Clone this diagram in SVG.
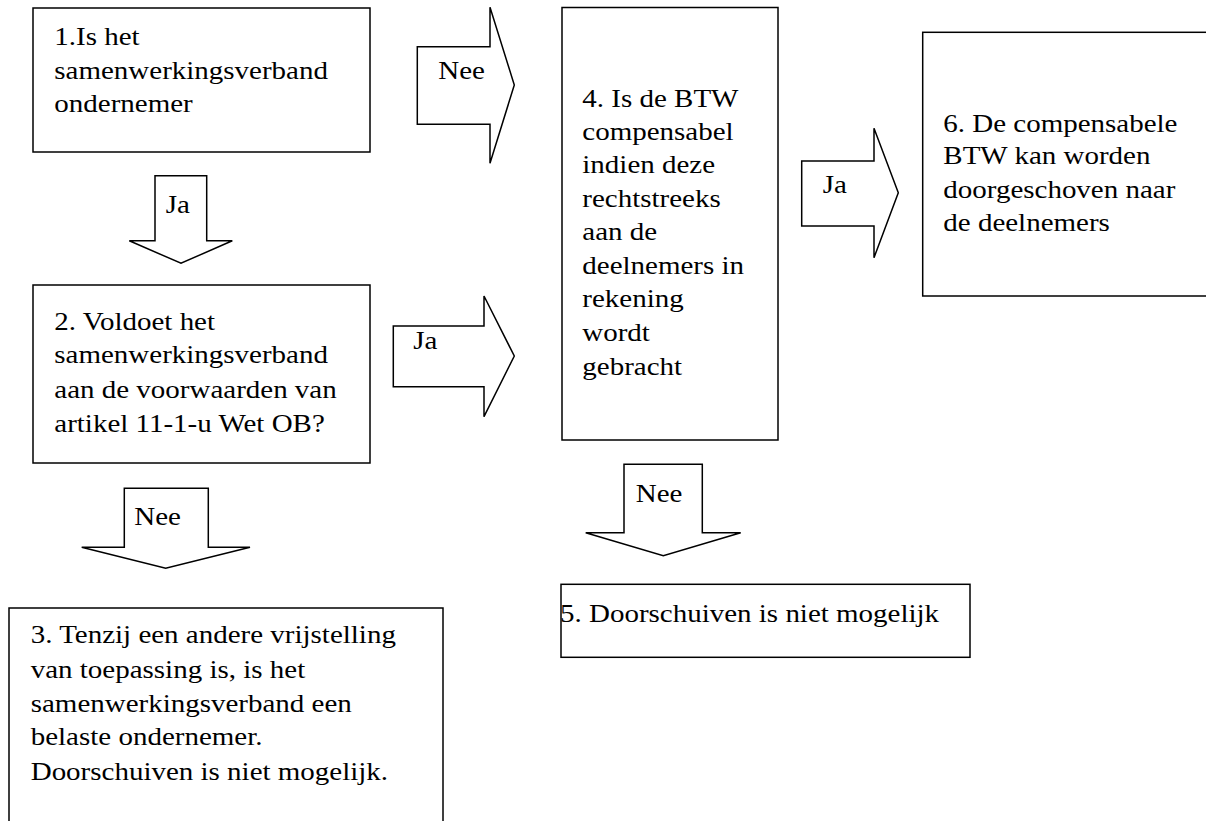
<svg xmlns="http://www.w3.org/2000/svg" width="1206" height="821" viewBox="0 0 1206 821">
<style>
.box{fill:#fff;stroke:#000;stroke-width:1.5}
.arr{fill:#fff;stroke:#000;stroke-width:1.5;stroke-linejoin:miter}
text{font-family:'Liberation Serif','Times New Roman','DejaVu Serif',serif;font-size:29px;fill:#000}
</style>
<rect width="1206" height="821" fill="#fff"/>
<g id="connectors" font-family="Liberation Serif, serif">
<g id="c1-4">
<polygon class="arr" points="417.3,46.7 490,46.7 490,7.3 514.3,85 490,163.3 490,124.3 417.3,124.3"/>
<text transform="translate(438.3,79.3) scale(1,0.88)">Nee</text>
</g>
<g id="c1-2">
<polygon class="arr" points="155,175.7 206.7,175.7 206.7,240.7 232.3,240.7 181,263.3 129.3,240.7 155,240.7"/>
<text transform="translate(165.7,213.3) scale(1,0.88)">Ja</text>
</g>
<g id="c2-4">
<polygon class="arr" points="393.3,326 484,326 484,296 514.3,356 484,416.7 484,386.7 393.3,386.7"/>
<text transform="translate(413.3,349.3) scale(1,0.88)">Ja</text>
</g>
<g id="c2-3">
<polygon class="arr" points="124.3,488.3 208.3,488.3 208.3,547.3 250,547.3 165.7,568.3 81.7,547.3 124.3,547.3"/>
<text transform="translate(134.3,525) scale(1,0.88)">Nee</text>
</g>
<g id="c4-6">
<polygon class="arr" points="801.7,161 874,161 874,128.3 898.3,192.7 874,257.7 874,226 801.7,226"/>
<text transform="translate(822.7,192.7) scale(1,0.88)">Ja</text>
</g>
<g id="c4-5">
<polygon class="arr" points="624,464.3 702.3,464.3 702.3,532.7 740.7,532.7 663.3,555.7 585.7,532.7 624,532.7"/>
<text transform="translate(635.7,501.7) scale(1,0.88)">Nee</text>
</g>
</g>
<g id="node1">
<rect class="box" x="33" y="8" width="337" height="144"/>
<text transform="translate(54.3,45) scale(1,0.88)">1.Is het</text>
<text transform="translate(54.3,78.7) scale(1,0.88)">samenwerkingsverband</text>
<text transform="translate(54.3,112.3) scale(1,0.88)">ondernemer</text>
</g>
<g id="node2">
<rect class="box" x="33" y="285" width="337" height="178"/>
<text transform="translate(54.3,330) scale(1,0.88)">2. Voldoet het</text>
<text transform="translate(54.3,363.3) scale(1,0.88)">samenwerkingsverband</text>
<text transform="translate(54.3,398.3) scale(1,0.88)">aan de voorwaarden van</text>
<text transform="translate(54.3,431.7) scale(1,0.88)">artikel 11-1-u Wet OB?</text>
</g>
<g id="node3">
<rect class="box" x="9" y="608" width="434" height="260"/>
<text transform="translate(30.7,643.3) scale(1,0.88)">3. Tenzij een andere vrijstelling</text>
<text transform="translate(30.7,678.3) scale(1,0.88)">van toepassing is, is het</text>
<text transform="translate(30.7,711.7) scale(1,0.88)">samenwerkingsverband een</text>
<text transform="translate(30.7,745) scale(1,0.88)">belaste ondernemer.</text>
<text transform="translate(30.7,780) scale(1,0.88)">Doorschuiven is niet mogelijk.</text>
</g>
<g id="node4">
<rect class="box" x="562" y="7.5" width="216" height="432.5"/>
<text transform="translate(582.3,106.7) scale(1,0.88)">4. Is de BTW</text>
<text transform="translate(582.3,140) scale(1,0.88)">compensabel</text>
<text transform="translate(582.3,173.3) scale(1,0.88)">indien deze</text>
<text transform="translate(582.3,207.3) scale(1,0.88)">rechtstreeks</text>
<text transform="translate(582.3,240) scale(1,0.88)">aan de</text>
<text transform="translate(582.3,274) scale(1,0.88)">deelnemers in</text>
<text transform="translate(582.3,307.3) scale(1,0.88)">rekening</text>
<text transform="translate(582.3,340.7) scale(1,0.88)">wordt</text>
<text transform="translate(582.3,375) scale(1,0.88)">gebracht</text>
</g>
<g id="node5">
<rect class="box" x="561" y="584.3" width="409" height="73"/>
<text transform="translate(560,621.7) scale(1,0.88)">5. Doorschuiven is niet mogelijk</text>
</g>
<g id="node6">
<rect class="box" x="922.7" y="32.3" width="300" height="263.7"/>
<text transform="translate(943.3,131.7) scale(1,0.88)">6. De compensabele</text>
<text transform="translate(943.3,164.3) scale(1,0.88)">BTW kan worden</text>
<text transform="translate(943.3,198.3) scale(1,0.88)">doorgeschoven naar</text>
<text transform="translate(943.3,231) scale(1,0.88)">de deelnemers</text>
</g>
</svg>
